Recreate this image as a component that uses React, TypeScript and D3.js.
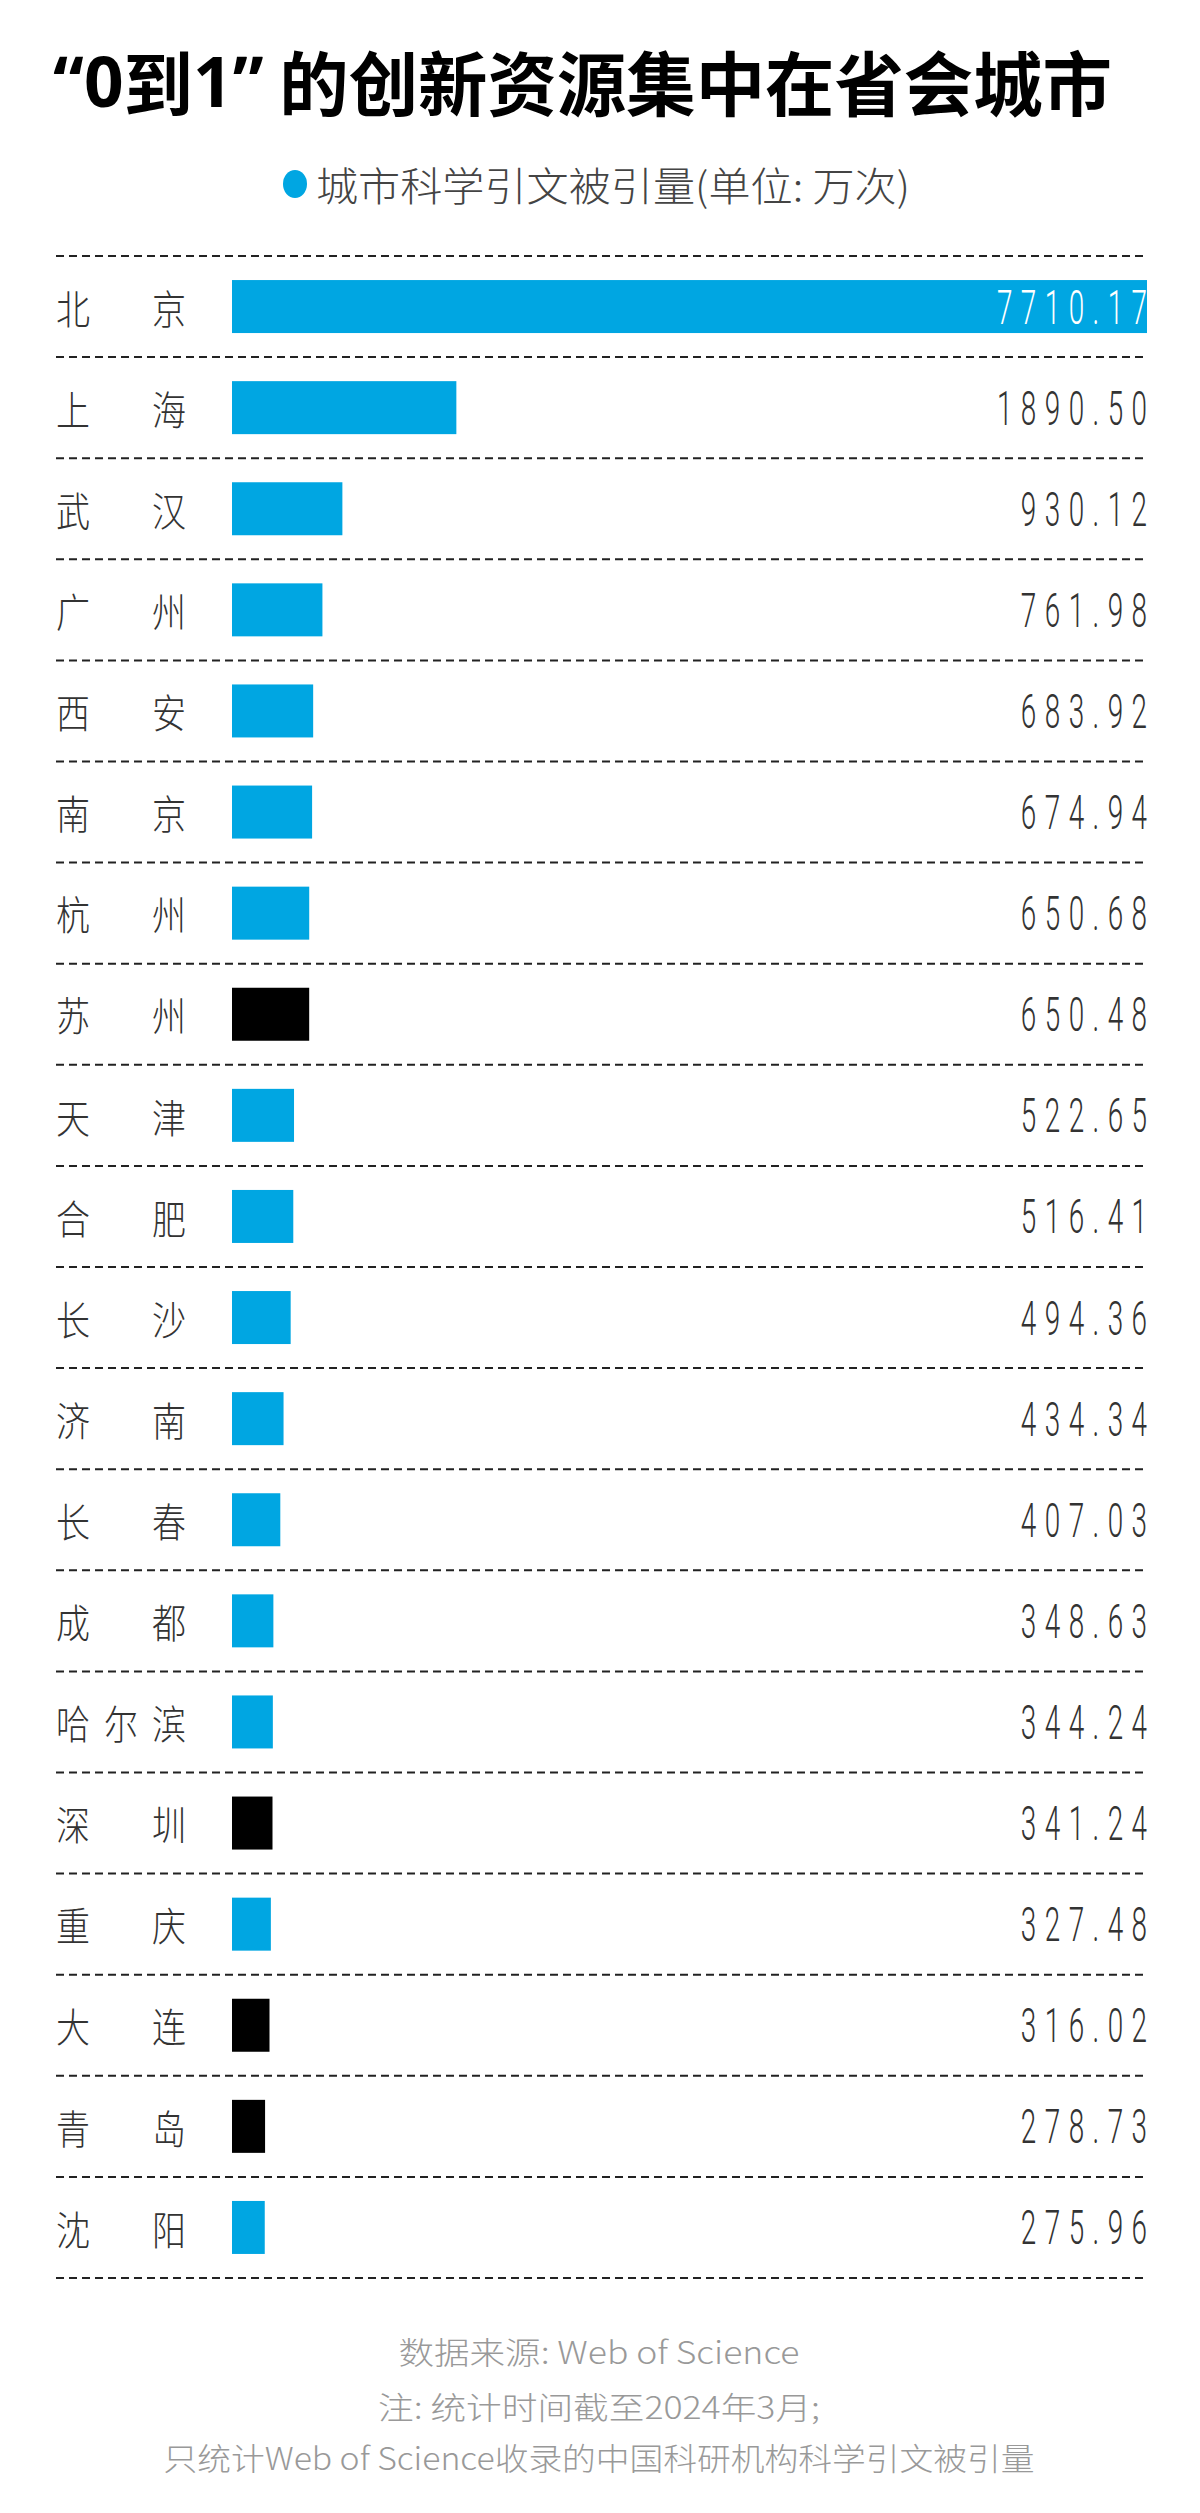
import React from "react";
import * as d3 from "d3";

const cities = ["北京", "上海", "武汉", "广州", "西安", "南京", "杭州", "苏州", "天津", "合肥",
  "长沙", "济南", "长春", "成都", "哈尔滨", "深圳", "重庆", "大连", "青岛", "沈阳"];
const citations = [7710.17, 1890.5, 930.12, 761.98, 683.92, 674.94, 650.68, 650.48, 522.65, 516.41,
  494.36, 434.34, 407.03, 348.63, 344.24, 341.24, 327.48, 316.02, 278.73, 275.96];
// non-capital cities drawn in black
const highlighted = ["苏州", "深圳", "大连", "青岛"];

const titleHead = "“0到1”";
const titleTail = " 的创新资源集中在省会城市";
const legendLabel = "城市科学引文被引量(单位: 万次)";
const notes = [
  "数据来源: Web of Science",
  "注: 统计时间截至2024年3月;",
  "只统计Web of Science收录的中国科研机构科学引文被引量",
];

const W = 1200, H = 2513;
const left = 56, right = 1147, barX = 232;
const top = 256, rowH = 101.1;
const blue = "#00a6e2";
const cjk = "'Noto Sans CJK SC', 'Noto Sans', sans-serif";
const latin = "'Noto Sans', 'Noto Sans CJK SC', sans-serif";

export default function App() {
  const y = d3.scaleBand<string>()
    .domain(cities)
    .range([top, top + rowH * cities.length])
    .padding(0);
  const x = d3.scaleLinear()
    .domain([0, d3.max(citations) as number])
    .range([barX, right]);
  const barH = 53;

  const noteWidths = [401, 442, 871];
  const noteY = [2350, 2405, 2456];

  return (
    <svg width={W} height={H} style={{ position: "absolute", left: 0, top: 0, display: "block", background: "#fff" }}>
      <text x={53} y={80} dominantBaseline="central" fontFamily={cjk} fontWeight={700}
        fontSize={70} fill="#000" textLength={1059} lengthAdjust="spacingAndGlyphs">
        <tspan fontFamily={latin}>“0</tspan>
        <tspan>到</tspan>
        <tspan fontFamily={latin}>1”</tspan>
        <tspan>{titleTail}</tspan>
      </text>

      <ellipse cx={295} cy={184} rx={12} ry={14} fill={blue} />
      <text x={316} y={184} dominantBaseline="central" fontFamily={cjk} fontWeight={300}
        fontSize={40} fill="#444" textLength={594} lengthAdjust="spacingAndGlyphs">{legendLabel}</text>

      {d3.range(cities.length + 1).map(i => (
        <line key={"g" + i} x1={left} x2={right} y1={top + i * rowH} y2={top + i * rowH}
          stroke="#222" strokeWidth={2} strokeDasharray="8,5" />
      ))}

      {cities.map((c, i) => {
        const cy = (y(c) as number) + y.bandwidth() / 2;
        const chars = Array.from(c);
        const cw = 34;
        const step = (186 - left - cw) / (chars.length - 1);
        const v = citations[i];
        const inside = i === 0;
        return (
          <g key={c}>
            {chars.map((ch, j) => (
              <text key={j} transform={`translate(${left + j * step},${cy}) scale(0.85,1)`}
                dominantBaseline="central" fontFamily={cjk} fontWeight={300} fontSize={40}
                fill="#333">{ch}</text>
            ))}
            <rect x={barX} y={cy - barH / 2} width={x(v) - barX} height={barH}
              fill={highlighted.includes(c) ? "#000" : blue} />
            <text transform={`translate(${right + 8.5},${cy + 17}) scale(0.58,1)`}
              textAnchor="end" fontFamily="Roboto, 'DejaVu Sans', sans-serif" fontWeight={300}
              fontSize={48} letterSpacing={14.6} fill={inside ? "#fff" : "#333"}>
              {v.toFixed(2)}
            </text>
          </g>
        );
      })}

      {notes.map((n, i) => (
        <text key={n} x={W / 2 - 1} y={noteY[i]} textAnchor="middle" dominantBaseline="central"
          fontFamily={cjk} fontWeight={300} fontSize={31} fill="#999"
          textLength={noteWidths[i]} lengthAdjust="spacingAndGlyphs">{n}</text>
      ))}
    </svg>
  );
}
